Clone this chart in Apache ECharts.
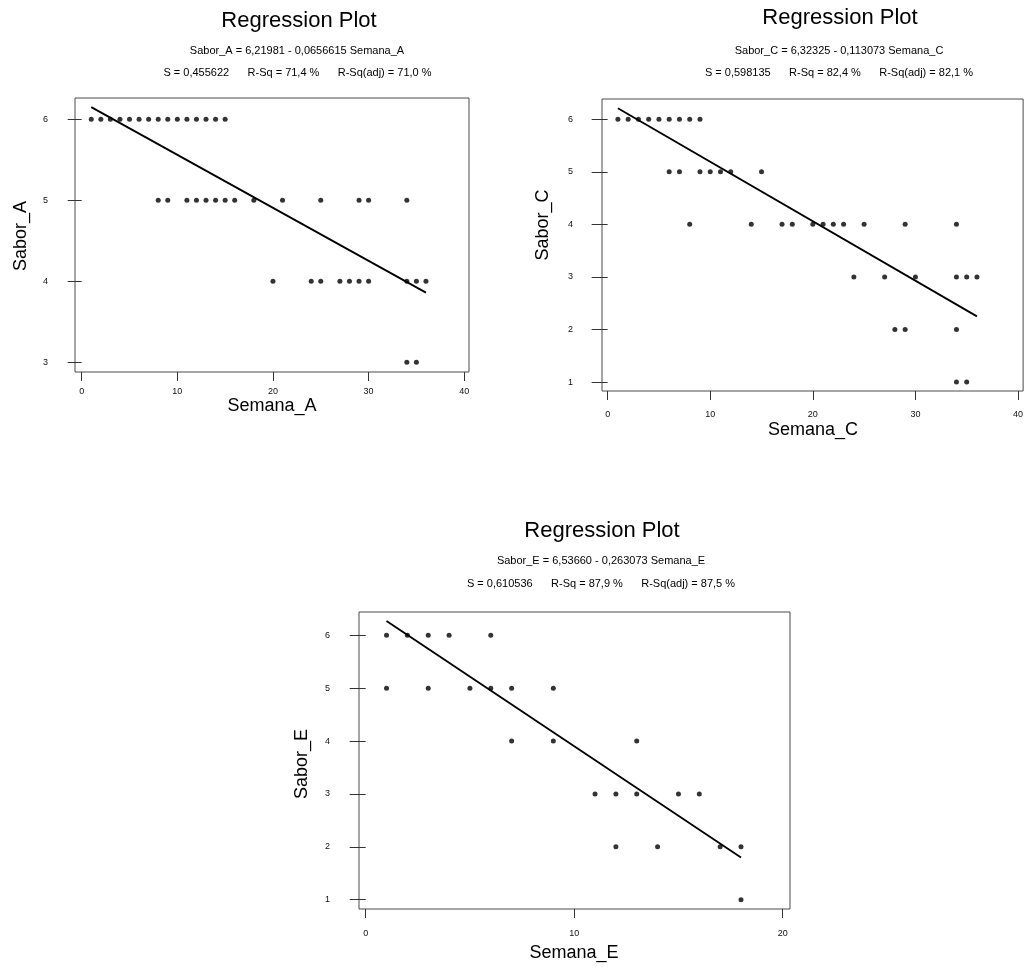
<!DOCTYPE html>
<html>
<head>
<meta charset="utf-8">
<script src="https://cdn.jsdelivr.net/npm/echarts@6/dist/echarts.min.js"></script>
<style>
html,body{margin:0;padding:0;background:#fff;}
#chart{width:1026px;height:970px;}
</style>
</head>
<body>
<div id="chart"></div>
<script>
// ---- Data ----
const semanaA = [1,2,3,4,5,6,7,8,9,10,11,12,13,14,15, 8,9,11,12,13,14,15,16,18,21,25,29,30,34, 20,24,25,27,28,29,30,34,35,36, 34,35];
const saborA  = [6,6,6,6,6,6,6,6,6,6,6,6,6,6,6, 5,5,5,5,5,5,5,5,5,5,5,5,5,5, 4,4,4,4,4,4,4,4,4,4, 3,3];
const fitA_x = [1, 36];
const fitA_y = [6.15, 3.86];

const semanaC = [1,2,3,4,5,6,7,8,9, 6,7,9,10,11,12,15, 8,14,17,18,20,21,22,23,25,29,34, 24,27,30,34,35,36, 28,29,34, 34,35];
const saborC  = [6,6,6,6,6,6,6,6,6, 5,5,5,5,5,5,5, 4,4,4,4,4,4,4,4,4,4,4, 3,3,3,3,3,3, 2,2,2, 1,1];
const fitC_x = [1, 36];
const fitC_y = [6.21, 2.25];

const semanaE = [1,2,3,4,6, 1,3,5,6,7,9, 7,9,13, 11,12,13,15,16, 12,14,17,18, 18];
const saborE  = [6,6,6,6,6, 5,5,5,5,5,5, 4,4,4, 3,3,3,3,3, 2,2,2,2, 1];
const fitE_x = [1, 18];
const fitE_y = [6.27, 1.80];

const xTicksAC = [0,10,20,30,40];
const xTicksE  = [0,10,20];
const yTicksA  = [3,4,5,6];
const yTicksCE = [1,2,3,4,5,6];

const titleText = 'Regression Plot';
const eqA = 'Sabor_A = 6,21981 - 0,0656615 Semana_A';
const eqC = 'Sabor_C = 6,32325 - 0,113073 Semana_C';
const eqE = 'Sabor_E = 6,53660 - 0,263073 Semana_E';
const statsA = 'S = 0,455622      R-Sq = 71,4 %      R-Sq(adj) = 71,0 %';
const statsC = 'S = 0,598135      R-Sq = 82,4 %      R-Sq(adj) = 82,1 %';
const statsE = 'S = 0,610536      R-Sq = 87,9 %      R-Sq(adj) = 87,5 %';

// ---- Build ----
const zip = (xs, ys) => xs.map((x, i) => [x, ys[i]]);
const FONT = 'Liberation Sans, Arial, sans-serif';

function xAxis(idx, min, max, ticks, margin) {
  return {
    type: 'value', gridIndex: idx, min: min, max: max,
    splitLine: {show: false},
    axisLine: {show: false},
    axisTick: {show: true, inside: false, length: 9, customValues: ticks, lineStyle: {color: '#333', width: 1}},
    axisLabel: {show: true, customValues: ticks, margin: margin, fontSize: 9, color: '#111', fontFamily: FONT}
  };
}
function yAxis(idx, min, max, ticks, tickLen, margin) {
  return {
    type: 'value', gridIndex: idx, min: min, max: max,
    splitLine: {show: false},
    axisLine: {show: false},
    axisTick: {show: true, inside: false, length: tickLen, customValues: ticks, lineStyle: {color: '#333', width: 1}},
    axisLabel: {show: true, customValues: ticks, margin: margin, fontSize: 9, color: '#111', fontFamily: FONT}
  };
}
function scatter(idx, data) {
  return {type: 'scatter', xAxisIndex: idx, yAxisIndex: idx, data: data, symbol: 'circle', symbolSize: 5,
          itemStyle: {color: '#000'}, silent: true};
}
function fit(idx, data) {
  return {type: 'line', xAxisIndex: idx, yAxisIndex: idx, data: data, symbol: 'none',
          lineStyle: {color: '#000', width: 1.8}, silent: true};
}
function txt(x, y, s, size, rot) {
  return {type: 'text', x: x, y: y, rotation: rot || 0,
          style: {text: s, fontSize: size, fontFamily: FONT, fill: '#000', align: 'center', verticalAlign: 'middle'}};
}

const gridStyle = {show: true, borderColor: '#4a4a4a', borderWidth: 1, backgroundColor: 'transparent'};

const option = {
  animation: false,
  backgroundColor: '#fff',
  grid: [
    Object.assign({left: 75, top: 98, width: 394, height: 274}, gridStyle),
    Object.assign({left: 602, top: 99, width: 422, height: 292}, gridStyle),
    Object.assign({left: 359, top: 612, width: 431, height: 297}, gridStyle)
  ],
  xAxis: [
    xAxis(0, -0.70, 40.5, xTicksAC, 15),
    xAxis(1, -0.55, 40.5, xTicksAC, 19),
    xAxis(2, -0.32, 20.35, xTicksE, 20)
  ],
  yAxis: [
    yAxis(0, 2.88, 6.263, yTicksA, 14, 27),
    yAxis(1, 0.83, 6.385, yTicksCE, 16, 29),
    yAxis(2, 0.824, 6.44, yTicksCE, 16, 29)
  ],
  series: [
    scatter(0, zip(semanaA, saborA)), fit(0, zip(fitA_x, fitA_y)),
    scatter(1, zip(semanaC, saborC)), fit(1, zip(fitC_x, fitC_y)),
    scatter(2, zip(semanaE, saborE)), fit(2, zip(fitE_x, fitE_y))
  ],
  graphic: [
    txt(299, 21, titleText, 22), txt(297, 50.5, eqA, 11), txt(297.5, 73.4, statsA, 11),
    txt(840, 18, titleText, 22), txt(839, 50.5, eqC, 11), txt(839, 73.4, statsC, 11),
    txt(602, 531, titleText, 22), txt(601, 560.7, eqE, 11), txt(601, 583.7, statsE, 11),
    txt(272, 406, 'Semana_A', 18), txt(813, 430, 'Semana_C', 18), txt(574, 953, 'Semana_E', 18),
    txt(21, 236, 'Sabor_A', 18, Math.PI / 2), txt(543, 225, 'Sabor_C', 18, Math.PI / 2), txt(302, 764, 'Sabor_E', 18, Math.PI / 2)
  ]
};

const chart = echarts.init(document.getElementById('chart'), null, {renderer: 'canvas'});
chart.setOption(option);
</script>
</body>
</html>
